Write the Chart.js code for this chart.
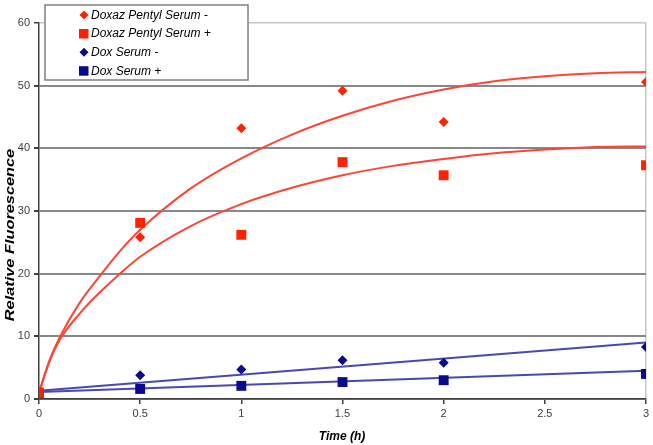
<!DOCTYPE html>
<html>
<head>
<meta charset="utf-8">
<script src="https://cdn.jsdelivr.net/npm/chart.js"></script>
<style>
  body { margin: 0; background: #fff; }
  #wrap { width: 653px; height: 445px; }
</style>
</head>
<body>
<div id="wrap"><canvas id="fluo" width="653" height="445"></canvas></div>
<script>
// measured points
var timeX = [0, 0.5, 1, 1.5, 2, 3];
var pentylMinus = [1.0, 25.8, 43.2, 49.2, 44.2, 50.6];
var pentylPlus = [1.0, 28.1, 26.2, 37.8, 35.7, 37.3];
var doxMinus = [1.0, 3.8, 4.7, 6.2, 5.8, 8.3];
var doxPlus = [1.0, 1.6, 2.1, 2.7, 3.0, 4.0];

// trend lines
var fitX = [0, 0.05, 0.1, 0.2, 0.3, 0.4, 0.5, 0.75, 1, 1.25, 1.5, 1.75, 2, 2.25, 2.5, 2.75, 3];
var pentylMinusFit = [1.0, 6.0, 9.7, 15.3, 19.6, 23.6, 27.0, 33.6, 38.4, 42.2, 45.2, 47.6, 49.4, 50.7, 51.5, 52.0, 52.2];
var pentylPlusFit = [1.0, 5.8, 9.3, 13.6, 17.0, 20.0, 22.7, 27.6, 31.1, 33.7, 35.7, 37.2, 38.3, 39.2, 39.8, 40.2, 40.3];
var doxX = [0, 3];
var doxMinusFit = [1.3, 9.0];
var doxPlusFit = [1.1, 4.5];

var yTicks = [0, 10, 20, 30, 40, 50, 60];

var RED = "#ff2200";
var NAVY = "#0a0a8c";
var RED_LINE = "#ff4434";
var BLUE_LINE = "#4848b4";
var FONT = "'Liberation Sans', Arial, sans-serif";

function pts(xs, ys) {
    return xs.map(function (x, i) { return { x: x, y: ys[i] }; });
}

function markerSet(label, ys, color, style, r) {
    return {
        label: label,
        data: pts(timeX, ys),
        showLine: false,
        pointStyle: style,
        pointRadius: r,
        pointBackgroundColor: color,
        pointBorderColor: color,
        pointBorderWidth: 0,
        order: 0,
        isMarker: true
    };
}

function fitSet(xs, ys, color) {
    return {
        data: pts(xs, ys),
        showLine: true,
        borderColor: color,
        borderWidth: 2,
        pointRadius: 0,
        cubicInterpolationMode: "monotone",
        fill: false,
        order: 1
    };
}

// legend box drawn inside the plot, plus axis titles
var legendBox = {
    id: "legendBox",
    afterDraw: function (chart) {
        var c = chart.ctx;
        c.save();
        c.fillStyle = "#fff";
        c.fillRect(45, 5, 203, 75);
        c.strokeStyle = "#808080";
        c.lineWidth = 1.5;
        c.strokeRect(45, 5, 203, 75);
        var rows = [15, 33.5, 52.3, 70.7];
        var marks = chart.data.datasets.filter(function (d) { return d.isMarker; });
        marks.forEach(function (d, i) {
            var y = rows[i];
            c.fillStyle = d.pointBackgroundColor;
            if (d.pointStyle === "rectRot") {
                c.beginPath();
                c.moveTo(84, y - 4.5);
                c.lineTo(88.5, y);
                c.lineTo(84, y + 4.5);
                c.lineTo(79.5, y);
                c.closePath();
                c.fill();
            } else {
                c.fillRect(79, y - 4.5, 9.5, 9.5);
            }
            c.fillStyle = "#000";
            c.font = "italic 12px " + FONT;
            c.textBaseline = "middle";
            c.textAlign = "left";
            c.fillText(d.label, 91, y + 0.5);
        });

        // axis titles
        c.fillStyle = "#000";
        c.font = "italic bold 12px " + FONT;
        c.textAlign = "center";
        c.textBaseline = "middle";
        c.fillText("Time (h)", 342, 437);
        c.translate(11, 235);
        c.rotate(-Math.PI / 2);
        c.scale(1.36, 1);
        c.fillText("Relative Fluorescence", 0, 0);
        c.restore();
    }
};

var ctx = document.getElementById("fluo").getContext("2d");
var chart = new Chart(ctx, {
    type: "scatter",
    data: {
        datasets: [
            markerSet("Doxaz Pentyl Serum -", pentylMinus, RED, "rectRot", 5),
            markerSet("Doxaz Pentyl Serum +", pentylPlus, RED, "rect", 7),
            markerSet("Dox Serum -", doxMinus, NAVY, "rectRot", 5),
            markerSet("Dox Serum +", doxPlus, NAVY, "rect", 7),
            fitSet(fitX, pentylMinusFit, RED_LINE),
            fitSet(fitX, pentylPlusFit, RED_LINE),
            fitSet(doxX, doxMinusFit, BLUE_LINE),
            fitSet(doxX, doxPlusFit, BLUE_LINE)
        ]
    },
    options: {
        responsive: false,
        animation: false,
        devicePixelRatio: 1,
        layout: { padding: { top: 23, right: 7, left: 0, bottom: 0 } },
        plugins: {
            legend: { display: false },
            tooltip: { enabled: false }
        },
        scales: {
            x: {
                type: "linear",
                min: 0,
                max: 3,
                afterFit: function (s) { s.height = 46; },
                ticks: {
                    stepSize: 0.5,
                    padding: 3,
                    color: "#404040",
                    font: { family: FONT, size: 11 },
                    callback: function (v) { return String(v); }
                },
                grid: {
                    color: function (c) { return c.tick && c.tick.value === 3 ? "#c8c8c8" : "rgba(0,0,0,0)"; },
                    lineWidth: 1.5,
                    tickColor: "#404040",
                    tickLength: 5
                },
                border: { color: "#404040", width: 1.5 }
            },
            y: {
                min: 0,
                max: 60,
                afterFit: function (s) { s.width = 39; },
                afterBuildTicks: function (s) {
                    s.ticks = yTicks.map(function (v) { return { value: v }; });
                },
                ticks: {
                    padding: 4,
                    color: "#404040",
                    font: { family: FONT, size: 11 }
                },
                grid: {
                    color: function (c) { return c.tick && c.tick.value === 60 ? "#c8c8c8" : "#888888"; },
                    lineWidth: function (c) { return c.tick && c.tick.value === 60 ? 1.5 : 2; },
                    tickColor: "#404040",
                    tickLength: 5
                },
                border: { color: "#404040", width: 1.5 }
            }
        }
    },
    plugins: [legendBox]
});
</script>
</body>
</html>
